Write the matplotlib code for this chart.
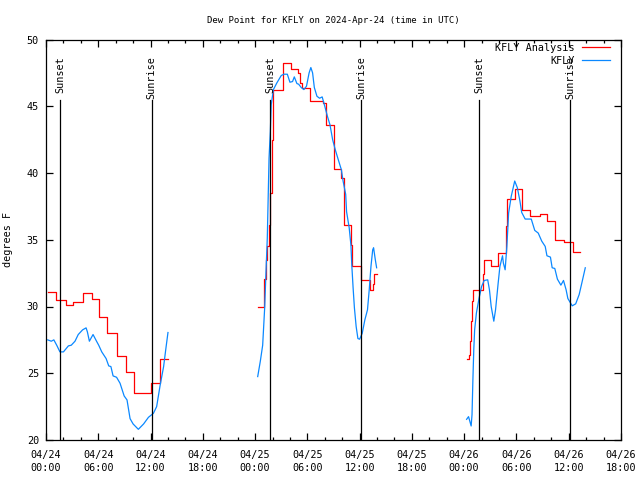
import datetime as dt
import numpy as np
import matplotlib
matplotlib.use("Agg")
import matplotlib.pyplot as plt

# hours after 2024-04-24 00:00 UTC
start = dt.datetime(2024, 4, 24, 0, 0)

# KFLY Analysis (stepped), one list per night
anl_t1 = [0.2, 1.2, 2.3, 3.1, 4.2, 5.25, 6.1, 7.05, 8.1, 9.15, 10.15, 12.1, 13.1, 14.0]
anl_v1 = [31.1, 30.5, 30.1, 30.3, 31.0, 30.55, 29.25, 28.0, 26.3, 25.1, 23.5, 24.25, 26.1, 26.1]
anl_t2 = [24.3, 25.05, 25.25, 25.4, 25.55, 25.75, 25.9, 26.05, 27.2, 28.1, 28.9, 29.2, 29.35,
          30.3, 31.8, 32.1, 33.0, 33.9, 34.15, 35.0, 35.15, 36.15, 37.2, 37.55, 37.7, 37.95]
anl_v2 = [30.0, 32.05, 33.5, 34.5, 36.1, 38.5, 42.5, 46.2, 48.25, 47.8, 47.5, 46.75, 46.4,
          45.4, 45.25, 43.6, 40.3, 39.6, 36.1, 34.6, 33.05, 32.0, 31.2, 31.65, 32.4, 32.4]
anl_t3 = [48.28, 48.6, 48.7, 48.8, 48.9, 49.0, 50.15, 50.3, 51.1, 51.9, 52.75, 52.9, 53.8,
          54.6, 55.6, 56.7, 57.5, 58.4, 59.45, 60.5, 61.3]
anl_v3 = [26.1, 26.4, 27.4, 28.9, 30.4, 31.25, 32.4, 33.5, 33.05, 34.0, 36.0, 38.05, 38.8,
          37.25, 36.75, 36.95, 36.4, 34.95, 34.8, 34.1, 34.1]

# KFLY observations
obs_t1 = [0.2, 0.6, 0.9, 1.23, 1.6, 2.0, 2.57, 2.9, 3.33, 3.7, 4.2, 4.6, 4.75, 4.98, 5.4,
          5.8, 6.05, 6.4, 6.9, 7.2, 7.45, 7.7, 8.1, 8.5, 8.97, 9.3, 9.65, 10.0, 10.6, 11.2,
          11.76, 12.33, 12.7, 13.1, 13.5, 13.75, 14.0]
obs_v1 = [27.5, 27.4, 27.5, 27.1, 26.6, 26.6, 27.05, 27.1, 27.4, 27.9, 28.25, 28.4, 28.1,
          27.4, 27.9, 27.4, 27.1, 26.6, 26.1, 25.55, 25.5, 24.8, 24.7, 24.25, 23.3, 23.0,
          21.6, 21.2, 20.8, 21.2, 21.7, 22.0, 22.5, 24.1, 25.5, 26.8, 28.05]
obs_t2 = [24.3, 24.6, 24.87, 25.1, 25.25, 25.4, 25.5, 25.6, 25.75, 25.85, 26.1, 26.5, 27.0,
          27.3, 27.7, 28.0, 28.3, 28.5, 28.8, 29.0, 29.3, 29.6, 29.9, 30.2, 30.4, 30.6, 30.8,
          31.1, 31.4, 31.7, 32.0, 32.3, 32.6, 32.9, 33.2, 33.5, 33.9, 34.1, 34.4, 34.5, 34.8,
          35.0, 35.1, 35.25, 35.4, 35.6, 35.8, 36.0, 36.3, 36.6, 36.9, 37.1, 37.3, 37.5, 37.6,
          37.8, 37.95]
obs_v2 = [24.75, 25.9, 27.1, 29.9, 32.6, 35.1, 38.1, 41.1, 43.1, 45.1, 46.25, 46.75, 47.3,
          47.4, 47.4, 46.8, 46.85, 47.2, 46.7, 46.65, 46.4, 46.25, 46.5, 47.5, 47.9, 47.5, 46.4,
          45.75, 45.6, 45.7, 45.0, 44.25, 43.6, 42.5, 41.75, 41.1, 40.25, 39.4, 38.4, 37.1, 35.9,
          34.6, 33.1, 31.4, 29.9, 28.5, 27.6, 27.55, 28.0, 29.0, 29.75, 31.25, 33.0, 34.25, 34.4,
          33.5, 32.9]
obs_t3 = [48.28, 48.5, 48.8, 48.9, 49.0, 49.1, 49.2, 49.4, 49.7, 50.0, 50.3, 50.7, 50.9, 51.1,
          51.4, 51.6, 51.9, 52.1, 52.4, 52.5, 52.7, 52.9, 53.1, 53.4, 53.8, 54.1, 54.4, 54.6,
          55.0, 55.7, 56.1, 56.5, 56.9, 57.3, 57.5, 57.9, 58.1, 58.4, 58.7, 59.1, 59.4, 59.7,
          59.9, 60.4, 60.8, 61.2, 61.5, 61.9]
obs_v3 = [21.55, 21.75, 21.05, 21.9, 24.5, 26.75, 28.25, 29.5, 30.6, 31.5, 31.95, 32.0, 31.25,
          30.0, 28.9, 29.75, 31.75, 33.0, 33.8, 33.25, 32.75, 34.5, 37.0, 38.25, 39.4, 38.9,
          37.9, 37.05, 36.55, 36.55, 35.7, 35.5, 34.9, 34.5, 33.8, 33.7, 32.9, 32.85, 32.05,
          31.6, 31.95, 31.25, 30.6, 30.05, 30.2, 30.9, 31.75, 32.9]

sunsets = [1.66, 25.7, 49.75]
sunrises = [12.15, 36.17, 60.15]

plt.rcParams['font.family'] = ['DejaVu Sans Mono']
plt.rcParams['font.size'] = 7.3

fig = plt.figure(figsize=(6.4, 4.8), dpi=100)
ax = fig.add_axes([46 / 640, 40 / 480, 575 / 640, 400.5 / 480])

red = '#ff0000'
blue = '#0a88ff'
for t, v in [(anl_t1, anl_v1), (anl_t2, anl_v2), (anl_t3, anl_v3)]:
    ax.plot(t, v, color=red, lw=0.9, drawstyle='steps-post')
for t, v in [(obs_t1, obs_v1), (obs_t2, obs_v2), (obs_t3, obs_v3)]:
    ax.plot(t, v, color=blue, lw=0.9)

# legend entries only
ax.plot([], [], color=red, lw=0.9, label='KFLY Analysis')
ax.plot([], [], color=blue, lw=0.9, label='KFLY')

for s in sunsets:
    ax.plot([s, s], [20, 45.5], color='black', lw=0.9)
    ax.text(s, 48.75, 'Sunset', rotation=90, ha='center', va='top')
for s in sunrises:
    ax.plot([s, s], [20, 45.5], color='black', lw=0.9)
    ax.text(s, 48.75, 'Sunrise', rotation=90, ha='center', va='top')

ax.set_xlim(0, 66)
ax.set_ylim(20, 50)
ticks = np.arange(0, 67, 6)
labels = [(start + dt.timedelta(hours=int(h))).strftime('%m/%d\n%H:%M') for h in ticks]
ax.set_xticks(ticks)
ax.set_xticklabels(labels, linespacing=1.45)
ax.set_xticks(np.arange(0, 67, 2), minor=True)
ax.set_yticks(np.arange(20, 51, 5))
ax.tick_params(which='both', direction='in', top=True, right=True, width=0.9)
ax.tick_params(which='major', length=5, pad=7)
ax.tick_params(axis='y', which='major', pad=5)
ax.tick_params(which='minor', length=2.5)
for sp in ax.spines.values():
    sp.set_linewidth(0.9)

ax.set_ylabel('degrees F', labelpad=10)
ax.set_title('Dew Point for KFLY on 2024-Apr-24 (time in UTC)', fontsize=6.5, pad=12)

handles, labs = ax.get_legend_handles_labels()
ax.legend(handles[-2:], labs[-2:], loc='upper right', frameon=False, markerfirst=False,
          handlelength=2.8, handletextpad=0.7, borderaxespad=0.1, labelspacing=0.3,
          bbox_to_anchor=(0.99, 1.005))

fig.savefig('out.png', dpi=100)
